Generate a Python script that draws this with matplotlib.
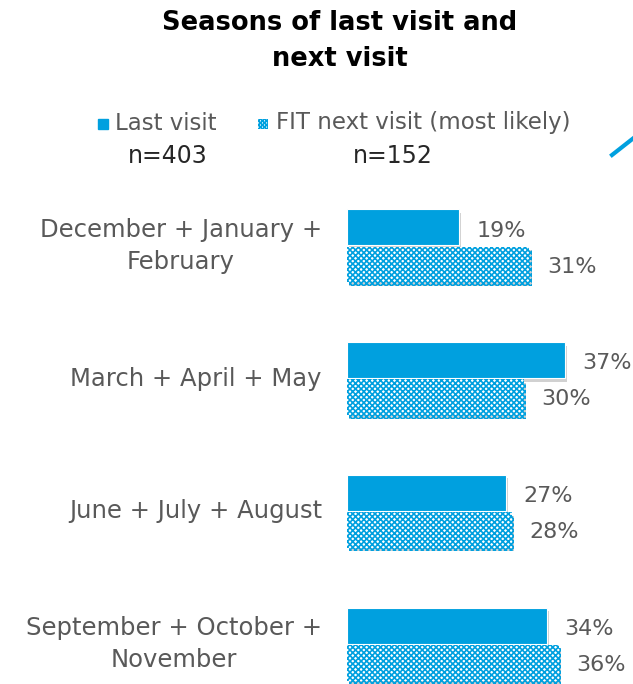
import numpy as np
import matplotlib.pyplot as plt
from matplotlib import patheffects as pe
from matplotlib.lines import Line2D

plt.rcParams['font.family'] = ['DejaVu Sans']
plt.rcParams['hatch.linewidth'] = 1.2

# data
categories = ['December + January +\nFebruary', 'March + April + May',
              'June + July + August', 'September + October +\nNovember']
last_visit = [19, 37, 27, 34]
next_visit = [31, 30, 28, 36]
series_names = ['Last visit', 'FIT next visit (most likely)']
sample_sizes = ['n=403', 'n=152']

blue = '#00a0df'
grey = '#595959'
W, H = 633, 684

fig = plt.figure(figsize=(W / 100, H / 100), dpi=100)
ax = fig.add_axes([347 / W, 0, 1 - 347 / W, 504 / H])

y = np.arange(len(categories))
h = 0.27
shadow = [pe.SimplePatchShadow(offset=(1.5, -2.5), shadow_rgbFace='#999999', alpha=0.45), pe.Normal()]

b1 = ax.barh(y - h / 2 - 0.005, last_visit, height=h, color=blue, edgecolor='white', linewidth=0.8)
b2 = ax.barh(y + h / 2 + 0.005, next_visit, height=h, color='white', edgecolor=blue,
             hatch='xxxxxx', linewidth=0)
for b in list(b1) + list(b2):
    b.set_path_effects(shadow)

for yi, v in zip(y, last_visit):
    ax.text(v + 3, yi - h / 2 + 0.02, f'{v}%', va='center', ha='left', fontsize=16, color=grey)
for yi, v in zip(y, next_visit):
    ax.text(v + 3, yi + h / 2 + 0.02, f'{v}%', va='center', ha='left', fontsize=16, color=grey)

ax.set_xlim(0, 48.6)
ax.set_ylim(3.30, -0.497)
ax.axis('off')

# category labels, right aligned left of the bars
centers_px = [246, 379, 511, 644]
for c, py in zip(categories, centers_px):
    fig.text(322 / W, 1 - py / H, c, ha='right', va='center', fontsize=17.5,
             color=grey, linespacing=1.45, multialignment='center')

fig.text(340 / W, 1 - 41 / H, 'Seasons of last visit and\nnext visit', ha='center',
         va='center', fontsize=18.5, fontweight='bold', color='black', linespacing=1.55)

# legend
fig.patches.append(plt.Rectangle((98 / W, 1 - 129 / H), 10 / W, 10 / H,
                                 transform=fig.transFigure, color=blue, figure=fig))
fig.patches.append(plt.Rectangle((258 / W, 1 - 129 / H), 10 / W, 10 / H,
                                 transform=fig.transFigure, facecolor='white',
                                 edgecolor=blue, hatch='xxxxxxxx', linewidth=0, figure=fig))
fig.text(115 / W, 1 - 123 / H, series_names[0], ha='left', va='center', fontsize=16.5, color=grey)
fig.text(276 / W, 1 - 123 / H, series_names[1], ha='left', va='center', fontsize=16.5, color=grey)
fig.text(168 / W, 1 - 156 / H, sample_sizes[0], ha='center', va='center', fontsize=17, color='#262626')
fig.text(393 / W, 1 - 156 / H, sample_sizes[1], ha='center', va='center', fontsize=17, color='#262626')

# decorative line fragment at top right
fig.lines.append(Line2D([612 / W, 640 / W], [1 - 155 / H, 1 - 133 / H],
                        transform=fig.transFigure, color=blue, linewidth=3))

fig.savefig('out.png', dpi=100)
